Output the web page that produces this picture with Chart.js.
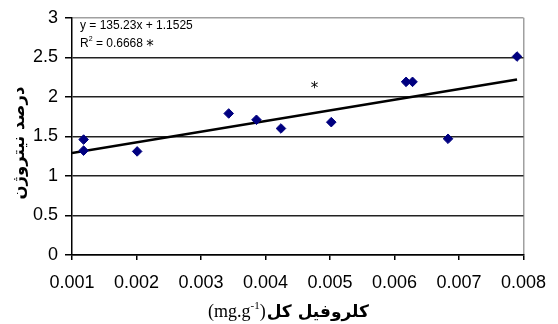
<!DOCTYPE html>
<html><head><meta charset="utf-8">
<script src="https://cdn.jsdelivr.net/npm/chart.js@4/dist/chart.umd.min.js"></script>
<style>html,body{margin:0;padding:0;background:#fff}</style>
</head><body>
<canvas id="c" width="558" height="324"></canvas>
<script>
// ---- data ----
const chlorophyll = [0.00118, 0.00118, 0.00201, 0.00343, 0.00386, 0.00424, 0.00502, 0.00618, 0.00628, 0.00683, 0.0079];
const nitrogen    = [1.46, 1.32, 1.31, 1.79, 1.71, 1.60, 1.68, 2.19, 2.19, 1.47, 2.51];
const trendX = [0.001, 0.0079];
const trendY = [1.29, 2.22];
const xTicks = [0.001, 0.002, 0.003, 0.004, 0.005, 0.006, 0.007, 0.008];
const yTicks = [0, 0.5, 1, 1.5, 2, 2.5, 3];
const equationText = 'y = 135.23x + 1.1525';
const r2Value = '0.6668';
const starPos = [0.00476, 2.14];
const xTitleLatin = '(mg.g';
const xTitleSup = '-1';
const xTitleArabic = 'کلروفیل کل';
const yTitle = 'درصد نیتروژن';

const NARROW = '"Liberation Sans Narrow", "Arial Narrow", "Liberation Sans", Arial, sans-serif';

const textPlugin = {
  id: 'texts',
  afterDraw(chart) {
    const ctx = chart.ctx;
    const xs = chart.scales.x, ys = chart.scales.y;
    ctx.save();
    ctx.fillStyle = '#000';
    ctx.textBaseline = 'alphabetic';
    ctx.textAlign = 'left';
    // equation
    ctx.font = '12px ' + NARROW;
    ctx.fillText(equationText, 80, 29);
    // R^2
    let x = 80;
    ctx.fillText('R', x, 47); x += ctx.measureText('R').width;
    ctx.font = '7px ' + NARROW;
    ctx.fillText('2', x, 41); x += ctx.measureText('2').width;
    ctx.font = '12px ' + NARROW;
    const r2 = ' = ' + r2Value + ' ';
    ctx.fillText(r2, x, 47); x += ctx.measureText(r2).width;
    ctx.font = '15px "DejaVu Sans", sans-serif';
    ctx.fillText('*', x, 51);
    // significance star in plot
    ctx.textAlign = 'center';
    ctx.fillText('*', xs.getPixelForValue(starPos[0]), ys.getPixelForValue(starPos[1]) + 7);
    // x title
    ctx.textAlign = 'left';
    let tx = 208;
    const by = 317;
    ctx.font = '18px "Liberation Serif", "Times New Roman", serif';
    ctx.fillText(xTitleLatin, tx, by); tx += ctx.measureText(xTitleLatin).width;
    ctx.font = '11px "Liberation Serif", "Times New Roman", serif';
    ctx.fillText(xTitleSup, tx, by - 8); tx += ctx.measureText(xTitleSup).width;
    ctx.font = '18px "Liberation Serif", "Times New Roman", serif';
    ctx.fillText(')', tx, by); tx += ctx.measureText(')').width;
    ctx.font = 'bold 17px "DejaVu Sans", sans-serif';
    ctx.fillText(xTitleArabic, tx + 1, by);
    // y title
    ctx.translate(20, 143);
    ctx.rotate(-Math.PI / 2);
    ctx.textAlign = 'center';
    ctx.textBaseline = 'middle';
    ctx.font = 'bold 16.5px "DejaVu Sans", sans-serif';
    ctx.fillText(yTitle, 0, 0);
    ctx.restore();
  }
};

new Chart(document.getElementById('c'), {
  type: 'scatter',
  data: {
    datasets: [
      {
        label: 'points',
        data: chlorophyll.map((v, i) => ({x: v, y: nitrogen[i]})),
        pointStyle: 'rectRot',
        pointRadius: 4.8,
        backgroundColor: '#000080',
        borderColor: '#000080',
        borderWidth: 1
      },
      {
        label: 'trend',
        type: 'line',
        data: trendX.map((v, i) => ({x: v, y: trendY[i]})),
        showLine: true,
        borderColor: '#000',
        borderWidth: 2.5,
        pointRadius: 0,
        fill: false
      }
    ]
  },
  options: {
    responsive: false,
    animation: false,
    layout: {padding: {left: 0, top: 15, right: 30, bottom: 0}},
    plugins: {legend: {display: false}, tooltip: {enabled: false}},
    scales: {
      x: {
        type: 'linear', min: xTicks[0], max: xTicks[xTicks.length - 1],
        afterBuildTicks: s => { s.ticks = xTicks.map(v => ({value: v})); },
        afterFit: s => { s.height = 69; },
        border: {color: '#000', width: 1.5},
        grid: {
          drawOnChartArea: true,
          color: c => (c.index === xTicks.length - 1 ? '#a0a0a0' : 'rgba(0,0,0,0)'),
          tickColor: '#000', tickLength: 5, lineWidth: 1.5
        },
        ticks: {color: '#000', font: {family: NARROW, size: 18}, padding: 12, maxRotation: 0,
          callback: v => Number(v).toFixed(3)}
      },
      y: {
        min: yTicks[0], max: yTicks[yTicks.length - 1],
        afterBuildTicks: s => { s.ticks = yTicks.map(v => ({value: v})); },
        afterFit: s => { s.width = 72; },
        border: {color: '#000', width: 1.5},
        grid: {
          color: c => (c.tick && c.tick.value === 3 ? '#a0a0a0' : '#222'),
          tickColor: '#000', tickLength: 7, lineWidth: 1.5
        },
        ticks: {color: '#000', font: {family: NARROW, size: 18}, padding: 7,
          callback: v => String(v)}
      }
    }
  },
  plugins: [textPlugin]
});
</script>
</body></html>
